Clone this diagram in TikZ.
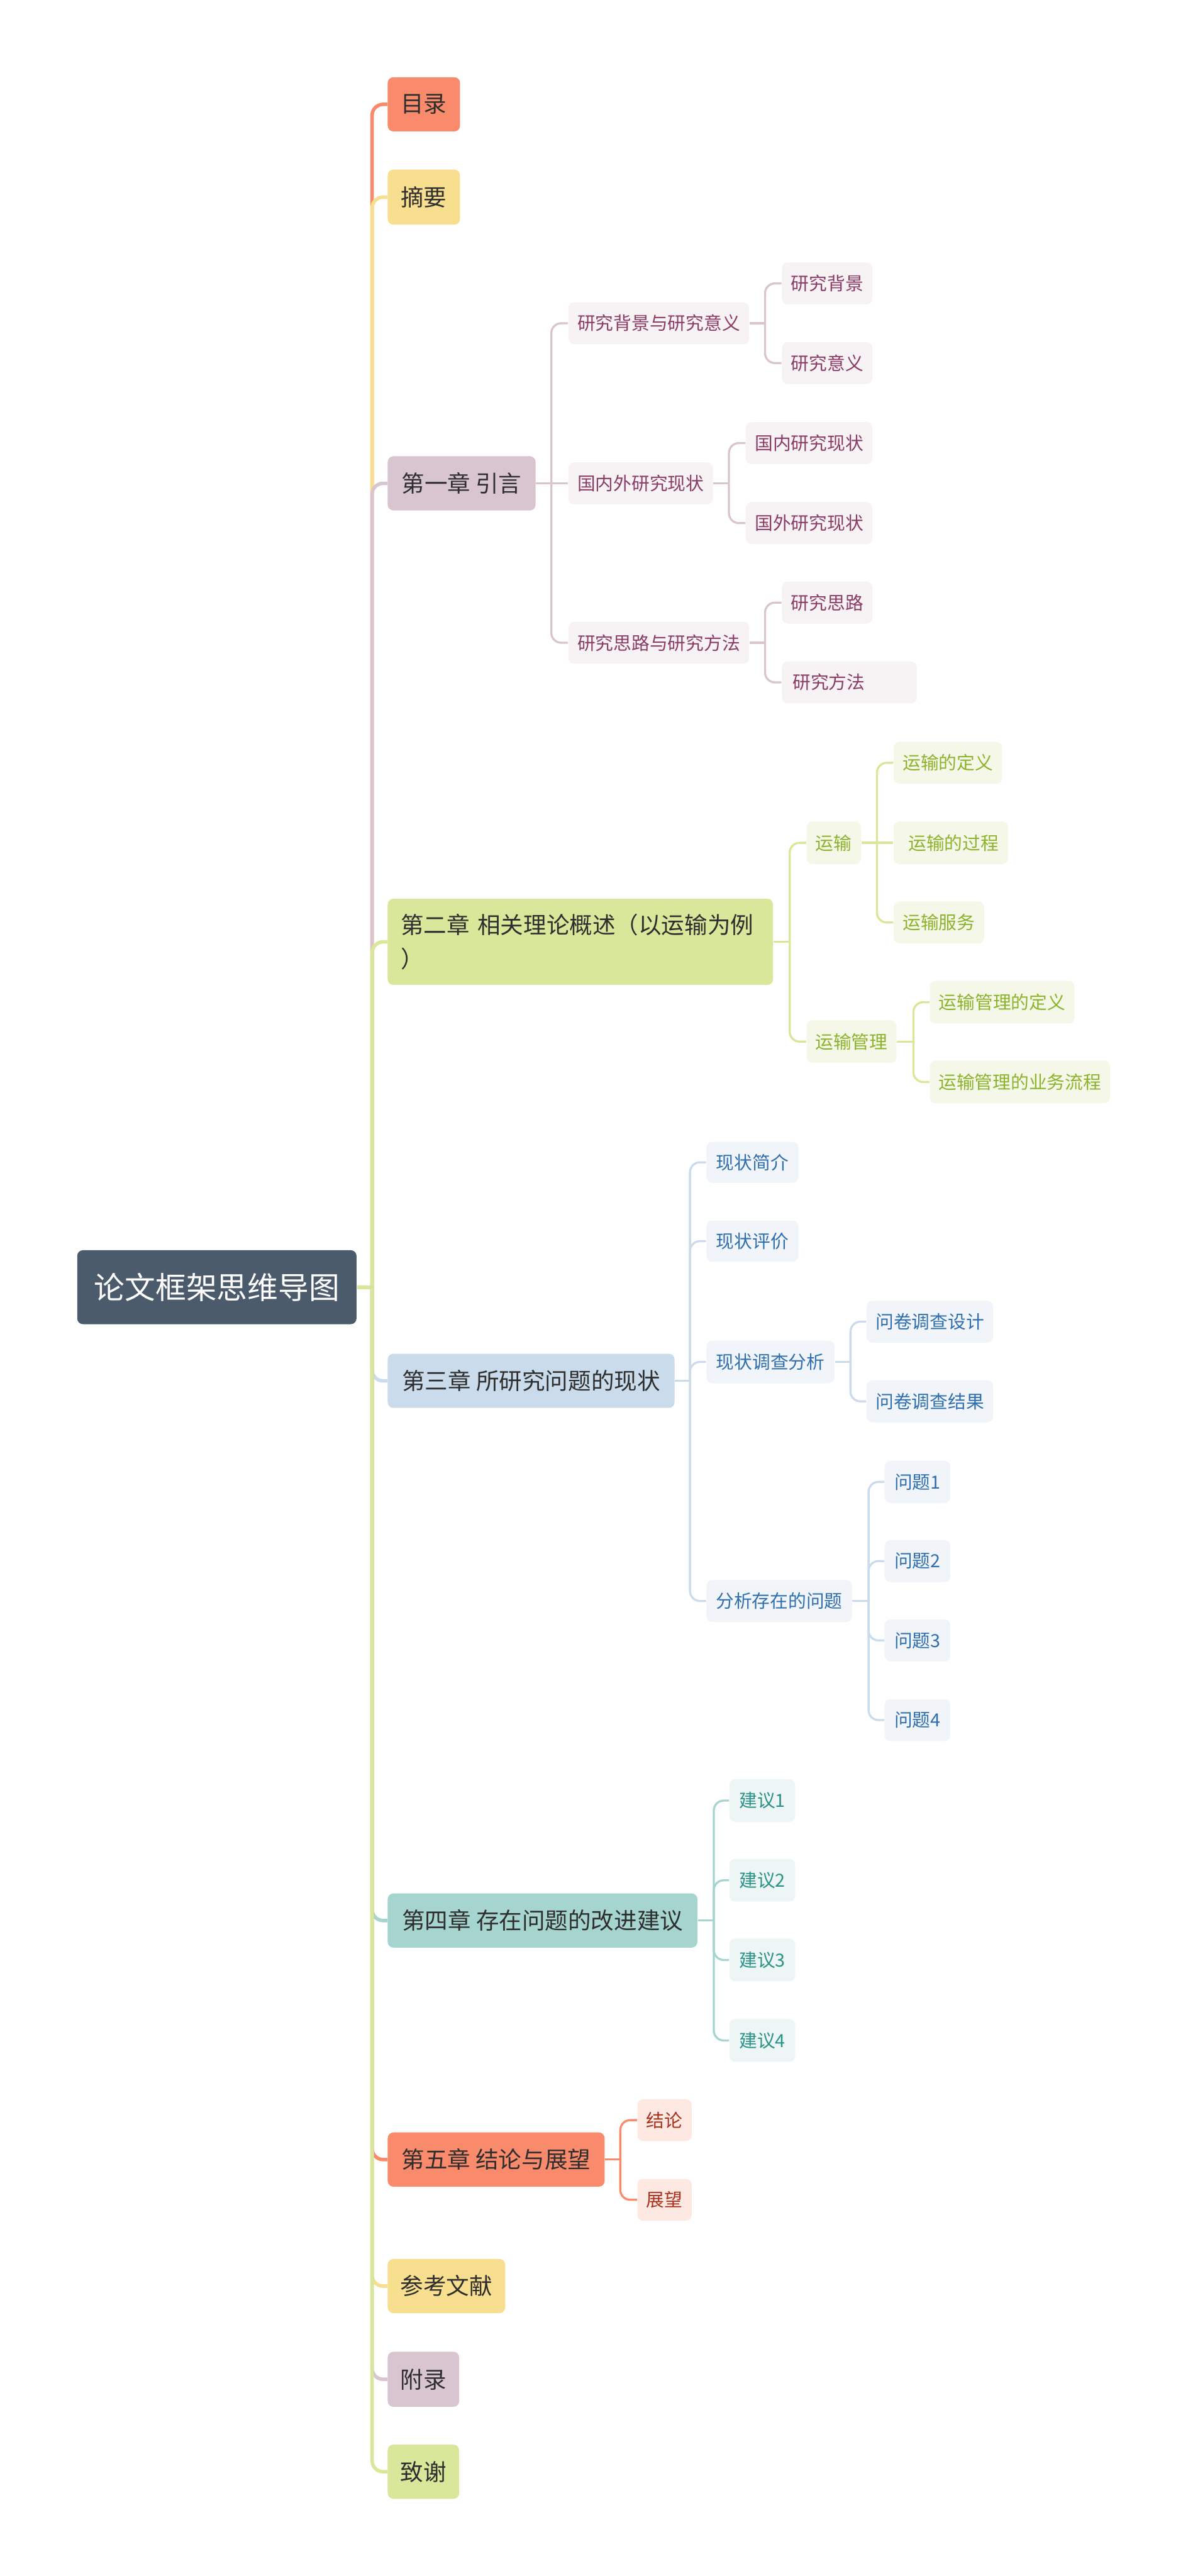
\documentclass[tikz,border=0pt]{standalone}
\usepackage{fontspec}
\setmainfont{Noto Sans CJK SC}
\definecolor{salL}{HTML}{F98A6B}
\definecolor{yelL}{HTML}{F7DF8F}
\definecolor{mauL}{HTML}{D8C5CF}
\definecolor{grnL}{HTML}{D9E79B}
\definecolor{bluL}{HTML}{CADCEB}
\definecolor{tealL}{HTML}{A6D5D0}
\definecolor{rootC}{HTML}{4B5B6B}
\definecolor{txtD}{HTML}{2E2E2E}
\definecolor{mauT}{HTML}{8A3C66}
\definecolor{mauF}{HTML}{F7F2F4}
\definecolor{grnT}{HTML}{8DB32C}
\definecolor{grnF}{HTML}{F5F8E9}
\definecolor{bluT}{HTML}{2F6FAE}
\definecolor{bluF}{HTML}{F1F5FA}
\definecolor{tealT}{HTML}{2A9387}
\definecolor{tealF}{HTML}{EDF6F5}
\definecolor{salT}{HTML}{A8321E}
\definecolor{salF}{HTML}{FEE8E2}
\tikzset{
  nb/.style={rounded corners=2.6pt, inner sep=0pt, align=center},
  wh/.style 2 args={minimum width=#1*0.75pt, minimum height=#2*0.75pt},
  l1/.style={nb, text=txtD, font=\fontsize{10.5pt}{15.6pt}\selectfont},
  l2/.style={nb, font=\fontsize{8.25pt}{10pt}\selectfont},
  mau/.style={l2, fill=mauF, text=mauT},
  grn/.style={l2, fill=grnF, text=grnT},
  blu/.style={l2, fill=bluF, text=bluT},
  tea/.style={l2, fill=tealF, text=tealT},
  sal/.style={l2, fill=salF, text=salT},
  tk/.style={line width=1.6pt, rounded corners=5pt},
  sl/.style={line width=0.95pt, rounded corners=4.5pt}
}
\begin{document}
\begin{tikzpicture}[x=0.75pt,y=-0.75pt]
\useasboundingbox (0,0) rectangle (723,1568);
\fill[white] (0,0) rectangle (723,1568);

% root
\node[nb, fill=rootC, text=white, font=\fontsize{14pt}{16pt}\selectfont, wh={170}{45}] (root) at (132,783.5) {论文框架思维导图};

% level 1
\node[l1, fill=salL, wh={44}{33}] (mulu) at (258,63.5) {目录};
\node[l1, fill=yelL, wh={44}{33.5}] (zy) at (258,120) {摘要};
\node[l1, fill=mauL, wh={90}{33}] (ch1) at (281,294.2) {第一章 引言};
\node[l1, fill=grnL, minimum height=52.5*0.75pt, text width=218.5*0.75pt, inner xsep=8*0.75pt, align=left] (ch2) at (353.25,573.3) {第二章 相关理论概述（以运输为例\\）};
\node[l1, fill=bluL, wh={174.6}{33}] (ch3) at (323.3,840.5) {第三章 所研究问题的现状};
\node[l1, fill=tealL, wh={188.5}{33}] (ch4) at (330.25,1169) {第四章 存在问题的改进建议};
\node[l1, fill=salL, wh={132}{33}] (ch5) at (302,1314.5) {第五章 结论与展望};
\node[l1, fill=yelL, wh={71.5}{33}] (ckwx) at (271.75,1391.5) {参考文献};
\node[l1, fill=mauL, wh={43.5}{33.5}] (fl) at (257.75,1448.25) {附录};
\node[l1, fill=grnL, wh={43.5}{33}] (zx) at (257.75,1504.5) {致谢};

% chapter 1
\node[mau, wh={110}{25.5}] (a1) at (401,196.75) {研究背景与研究意义};
\node[mau, wh={88}{25.5}] (a2) at (390,294.2) {国内外研究现状};
\node[mau, wh={110}{25.5}] (a3) at (401,391.25) {研究思路与研究方法};
\node[mau, wh={55}{25.5}] (a11) at (503.5,172.5) {研究背景};
\node[mau, wh={55}{25.5}] (a12) at (503.5,221) {研究意义};
\node[mau, wh={77}{25.5}] (a21) at (492.5,269.7) {国内研究现状};
\node[mau, wh={77}{25.5}] (a22) at (492.5,318.4) {国外研究现状};
\node[mau, wh={55}{25.5}] (a31) at (503.5,366.8) {研究思路};
\node[mau, minimum height=25.5*0.75pt, text width=69*0.75pt, inner xsep=6.5*0.75pt, align=left] (a32) at (517,415.35) {研究方法};

% chapter 2
\node[grn, wh={33}{26}] (b1) at (507.5,513) {运输};
\node[grn, wh={54.6}{26}] (b2) at (518.3,634) {运输管理};
\node[grn, wh={66}{25.5}] (b11) at (577,464.3) {运输的定义};
\node[grn, wh={69.5}{26}] (b12) at (578.75,513) {\hspace*{2.5pt}运输的过程};
\node[grn, wh={55}{25.5}] (b13) at (571.5,561.5) {运输服务};
\node[grn, wh={88}{26}] (b21) at (610,610) {运输管理的定义};
\node[grn, wh={109.6}{26}] (b22) at (620.8,658.6) {运输管理的业务流程};

% chapter 3
\node[blu, wh={56}{25}] (c1) at (458,707.5) {现状简介};
\node[blu, wh={56}{25}] (c2) at (458,755.5) {现状评价};
\node[blu, wh={78}{26}] (c3) at (469,829) {现状调查分析};
\node[blu, wh={88.6}{25.5}] (c4) at (474.3,974.5) {分析存在的问题};
\node[blu, wh={77}{25.5}] (c31) at (566,804.5) {问卷调查设计};
\node[blu, wh={77}{25.5}] (c32) at (566,853) {问卷调查结果};
\node[blu, wh={40}{25.5}] (c41) at (558.5,902) {问题1};
\node[blu, wh={40}{25.5}] (c42) at (558.5,950.2) {问题2};
\node[blu, wh={40}{25.5}] (c43) at (558.5,998.5) {问题3};
\node[blu, wh={40}{25.5}] (c44) at (558.5,1047) {问题4};

% chapter 4
\node[tea, wh={40}{26}] (d1) at (464,1096) {建议1};
\node[tea, wh={40}{26}] (d2) at (464,1144.5) {建议2};
\node[tea, wh={40}{26}] (d3) at (464,1193) {建议3};
\node[tea, wh={40}{26}] (d4) at (464,1242) {建议4};

% chapter 5
\node[sal, wh={33}{25.5}] (e1) at (404.5,1290.5) {结论};
\node[sal, wh={33}{25.5}] (e2) at (404.5,1339) {展望};

% junction coordinates
\coordinate (T) at (226.5,783.5);
\coordinate (J1) at (335.6,294.2);
\coordinate (J11) at (465.7,196.75);
\coordinate (J12) at (443.7,294.2);
\coordinate (J13) at (465.7,391.25);
\coordinate (J2) at (480.7,573.3);
\coordinate (J21) at (533.8,513);
\coordinate (J22) at (556,634);
\coordinate (J3) at (420,840.5);
\coordinate (J31) at (517.7,829);
\coordinate (J32) at (528.7,974.5);
\coordinate (J4) at (434.5,1169);
\coordinate (J5) at (377.6,1314.5);

% main trunk
\draw[tk, salL] (T) |- (mulu.west);
\draw[tk, yelL] (T) |- (zy.west);
\draw[tk, mauL] (T) |- (ch1.west);
\draw[tk, grnL] (T) |- (ch2.west);
\draw[tk, grnL] (root.east) -- (T);
\draw[tk, bluL] (T) |- (ch3.west);
\draw[tk, tealL] (T) |- (ch4.west);
\draw[tk, salL] (T) |- (ch5.west);
\draw[tk, yelL] (T) |- (ckwx.west);
\draw[tk, mauL] (T) |- (fl.west);
\draw[tk, grnL] (T) |- (zx.west);

% chapter 1 connectors
\draw[sl, mauL] (ch1.east) -- (J1);
\draw[sl, mauL] (J1) |- (a1.west);
\draw[sl, mauL] (J1) -- (a2.west);
\draw[sl, mauL] (J1) |- (a3.west);
\draw[sl, mauL] (a1.east) -- (J11);
\draw[sl, mauL] (J11) |- (a11.west);
\draw[sl, mauL] (J11) |- (a12.west);
\draw[sl, mauL] (a2.east) -- (J12);
\draw[sl, mauL] (J12) |- (a21.west);
\draw[sl, mauL] (J12) |- (a22.west);
\draw[sl, mauL] (a3.east) -- (J13);
\draw[sl, mauL] (J13) |- (a31.west);
\draw[sl, mauL] (J13) |- (a32.west);

% chapter 2 connectors
\draw[sl, grnL] (ch2.east) -- (J2);
\draw[sl, grnL] (J2) |- (b1.west);
\draw[sl, grnL] (J2) |- (b2.west);
\draw[sl, grnL] (b1.east) -- (J21);
\draw[sl, grnL] (J21) |- (b11.west);
\draw[sl, grnL] (J21) -- (b12.west);
\draw[sl, grnL] (J21) |- (b13.west);
\draw[sl, grnL] (b2.east) -- (J22);
\draw[sl, grnL] (J22) |- (b21.west);
\draw[sl, grnL] (J22) |- (b22.west);

% chapter 3 connectors
\draw[sl, bluL] (ch3.east) -- (J3);
\draw[sl, bluL] (J3) |- (c1.west);
\draw[sl, bluL] (J3) |- (c2.west);
\draw[sl, bluL] (J3) |- (c3.west);
\draw[sl, bluL] (J3) |- (c4.west);
\draw[sl, bluL] (c3.east) -- (J31);
\draw[sl, bluL] (J31) |- (c31.west);
\draw[sl, bluL] (J31) |- (c32.west);
\draw[sl, bluL] (c4.east) -- (J32);
\draw[sl, bluL] (J32) |- (c41.west);
\draw[sl, bluL] (J32) |- (c42.west);
\draw[sl, bluL] (J32) |- (c43.west);
\draw[sl, bluL] (J32) |- (c44.west);

% chapter 4 connectors
\draw[sl, tealL] (ch4.east) -- (J4);
\draw[sl, tealL] (J4) |- (d1.west);
\draw[sl, tealL] (J4) |- (d2.west);
\draw[sl, tealL] (J4) |- (d3.west);
\draw[sl, tealL] (J4) |- (d4.west);

% chapter 5 connectors
\draw[sl, salL] (ch5.east) -- (J5);
\draw[sl, salL] (J5) |- (e1.west);
\draw[sl, salL] (J5) |- (e2.west);
\end{tikzpicture}
\end{document}
